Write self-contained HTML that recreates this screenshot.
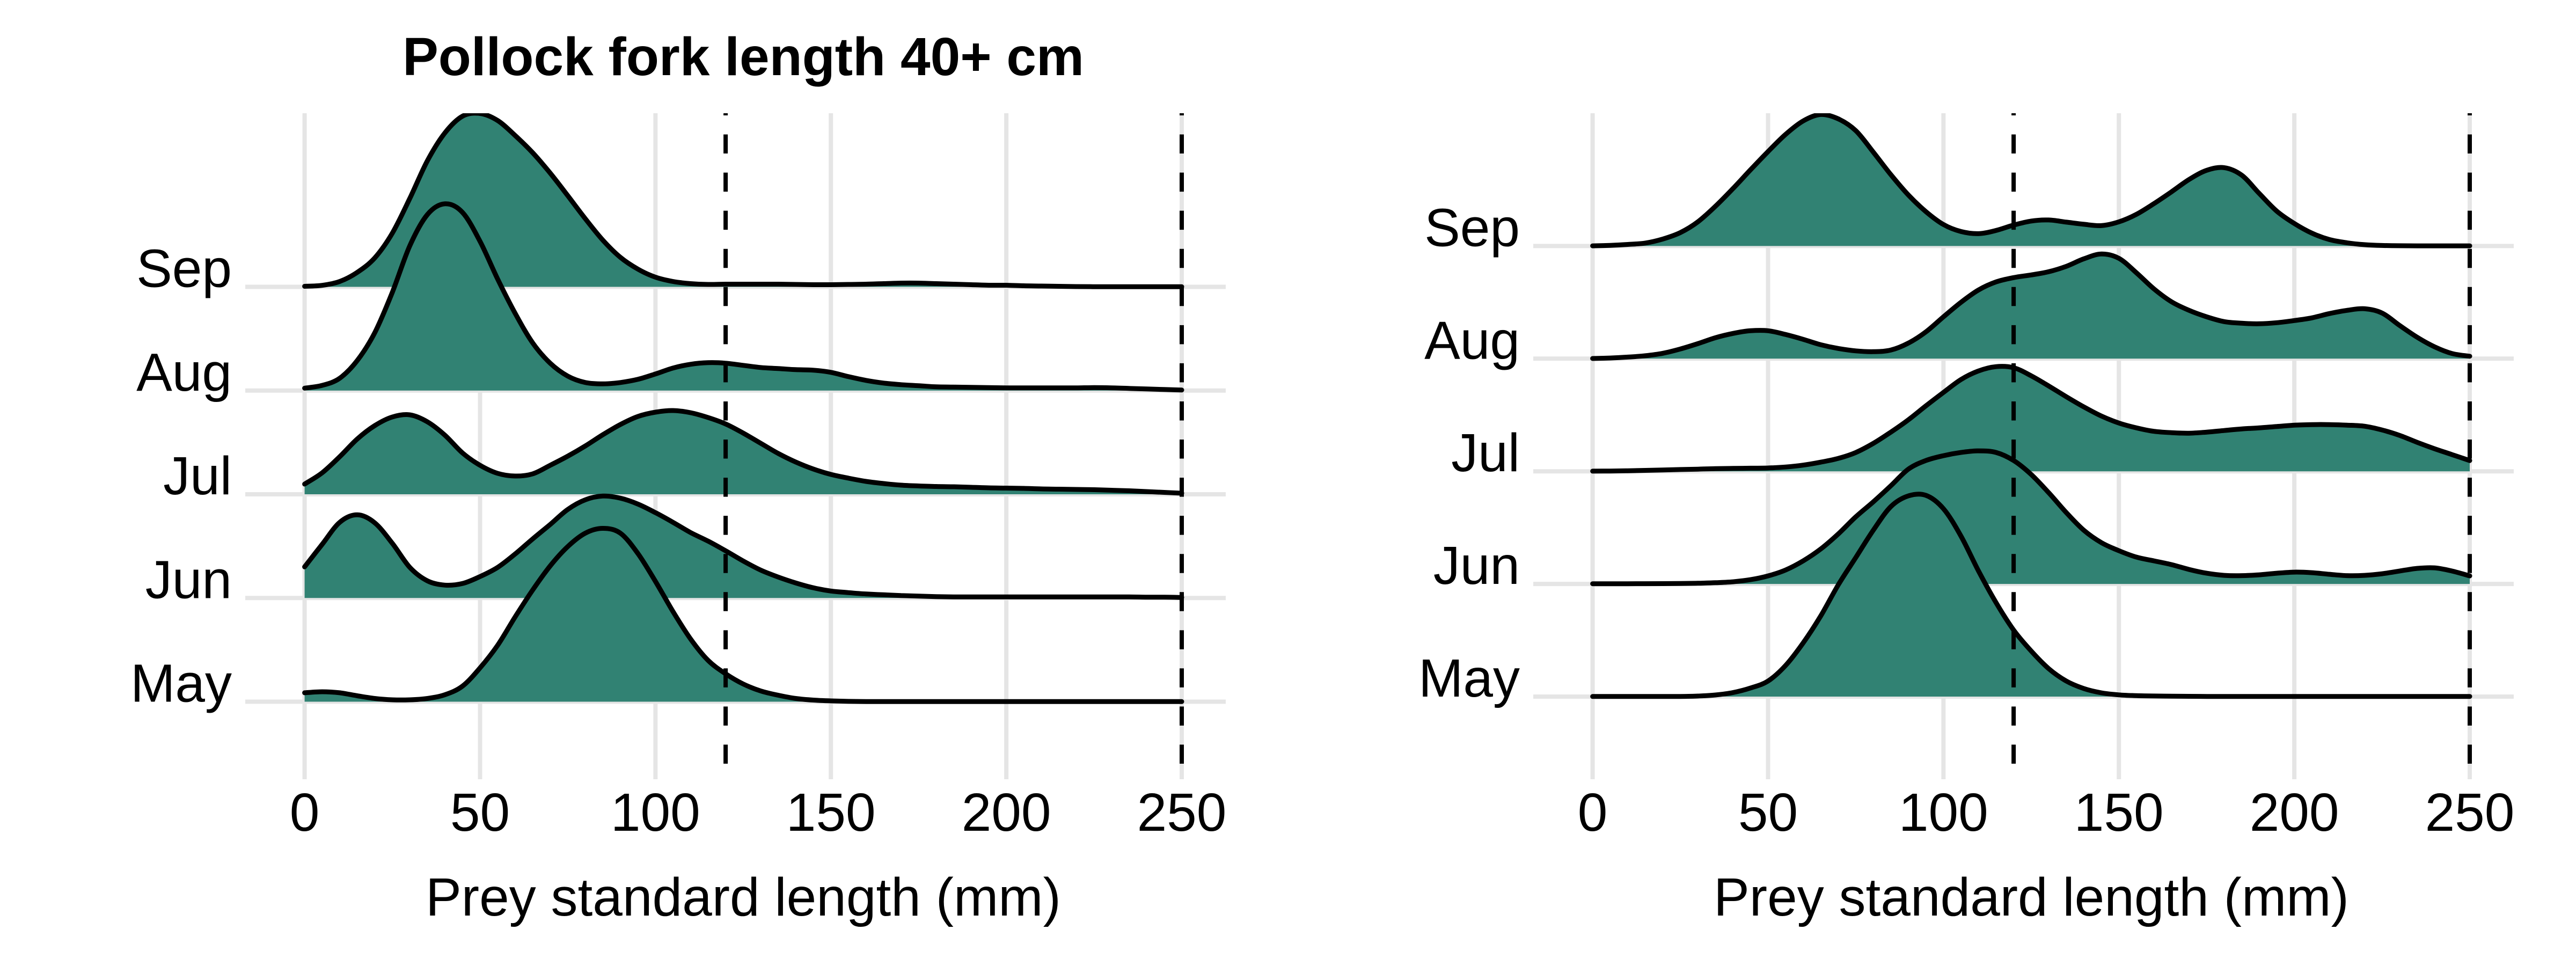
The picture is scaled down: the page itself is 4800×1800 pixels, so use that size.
<!DOCTYPE html>
<html lang="en">
<head>
<meta charset="utf-8">
<title>Pollock prey length ridgeline</title>
<style>
html,body{margin:0;padding:0;background:#fff;}
svg{display:block;}
text{font-family:"Liberation Sans",Arial,sans-serif;font-size:100px;fill:#000;}
</style>
</head>
<body>
<svg id="chart" xmlns="http://www.w3.org/2000/svg" width="4800" height="1800" viewBox="0 0 4800 1800">
<rect width="4800" height="1800" fill="#fff"/>
<text x="1385" y="140" text-anchor="middle" font-weight="bold">Pollock fork length 40+ cm</text>
</svg>
<script>
const months = ['May','Jun','Jul','Aug','Sep'];
const xTickLabels = [0,50,100,150,200,250];
const referenceLengths = [120,250];
const preyLengths = [0,5,10,15,20,25,30,35,40,45,50,55,60,65,70,75,80,85,90,95,100,105,110,115,120,125,130,135,140,145,150,155,160,165,170,175,180,185,190,195,200,205,210,215,220,225,230,235,240,245,250];

const leftMay = [16.6,18.5,16.6,11,6,3.5,3.5,6,13,29,63,105,158,208,253,289,314,323,314,276,224,168,117,77,52,33,20,12,6,3,1.5,.6,.3,.2,.2,.2,.2,.2,.2,.2,.2,.2,.2,.2,.2,.2,.2,.2,.2,.2,.2];
const leftJun = [58,100,141,155,140,102,57,32,24,27,40,57,82,110,137,165,183,190,186,175,159,141,122,106,88,69,52,39,28,19,13,10,7.5,6,4.5,3.5,2.5,2,2,2,2,2,2,2,2,2,2,2,1.5,1.5,1];
const leftJul = [19,40,70,103,128,144,148,135,110,77,54,39,34,38,54,71,90,111,130,145,153,156,152,143,131,114,95,76,60,47,37,30,24,20,17,15.5,14.5,14,13,12,11.5,11,10,9.5,9,8.5,7.5,6.5,5,3.5,2];
const leftAug = [4.5,9.6,23,56,108,183,270,328,348,332,278,208,144,89,51,27,15,12.5,15,21,31,42,49,52,51,47,43,41,39,38,34,26,19,14,11,9,7,6.5,6,5.5,5,5,5,5,5,5.5,5,4,3,2,1];
const leftSep = [1,2.8,10,27,54,100,165,235,287,318,323,310,282,250,212,170,127,87,55,33,18,10,6,4.5,5,5,5,5,4.5,4,4,4.5,5,6,7,7,6,5,4,3,3,2,1.5,1,.5,.3,.2,.2,.2,.2,.2];

const rightMay = [.2,.2,.2,.2,.2,.3,1,3,7.5,16,29,58,100,150,208,259,310,354,374,375,350,299,234,175,124,85,52,29,15,7,3.2,1.7,1.1,.8,.5,.3,.3,.3,.3,.3,.3,.3,.3,.3,.3,.3,.3,.3,.3,.3,.3];
const rightJun = [.4,.4,.4,.5,.6,.8,1.3,2.3,4,8,15,26,43,65,93,125,153,183,214,230,239,245,248,245,230,204,170,133,100,77,62,50,43,36,27,20,16,15.5,17,20,22,21,18,15.5,16,19,24,29,30,24,15];
const rightJul = [.3,.5,1,1.7,2.5,3.3,4,5,5.4,5.8,6.2,8,11.5,17,24,35,52,73,96,122,147,171,187,195,193,178,159,139,120,103,90,81,74.5,72,71,73,76,79,81,83.5,86,87,87,86,84,77,67,54,42,31,20];
const rightAug = [.3,1.2,2.9,5.4,10,18,28,39,47,52,52,45,36,26,19,14.5,13,16,29,50,78,105,128,143,151,156,162,172,186,195,187,160,130,106,90,78,69,66,65,67,71,76,84,90,93,85,62,40,22,9.5,4.5];
const rightSep = [.3,1.2,2.9,5.5,13,25,45,74,107,142,176,208,233,245,237,215,175,133,95,64,40,27,23,29,39,46.5,48.5,44.5,40.5,38,45,59,79,101,124,141,146,132,98,65,42,24,12,6,2.5,1,.5,.3,.3,.3,.3];

const leftSeries = [leftMay,leftJun,leftJul,leftAug,leftSep];
const rightSeries = [rightMay,rightJun,rightJul,rightAug,rightSep];

const NS = 'http://www.w3.org/2000/svg';
const svg = document.getElementById('chart');
const FILL = '#318273';
const GRID = '#e5e5e5';

function make(tag, attrs, parent){
  const el = document.createElementNS(NS, tag);
  for (const k in attrs) el.setAttribute(k, attrs[k]);
  parent.appendChild(el);
  return el;
}
function splinePath(pts){
  let d = 'M' + pts[0][0].toFixed(1) + ' ' + pts[0][1].toFixed(1);
  for (let i = 0; i < pts.length - 1; i++){
    const p0 = pts[Math.max(i-1,0)], p1 = pts[i], p2 = pts[i+1], p3 = pts[Math.min(i+2,pts.length-1)];
    const c1x = p1[0] + (p2[0]-p0[0])/6, c1y = p1[1] + (p2[1]-p0[1])/6;
    const c2x = p2[0] - (p3[0]-p1[0])/6, c2y = p2[1] - (p3[1]-p1[1])/6;
    d += 'C' + c1x.toFixed(1) + ' ' + c1y.toFixed(1) + ' ' + c2x.toFixed(1) + ' ' + c2y.toFixed(1) + ' ' + p2[0].toFixed(1) + ' ' + p2[1].toFixed(1);
  }
  return d;
}
function drawPanel(side, offsetX, firstBaseline, rowStep, series){
  const x0 = 567.6 + offsetX, x1 = 2202 + offsetX;
  const left = 457 + offsetX, right = 2284 + offsetX, top = 211, bottom = 1452;
  const xScale = v => x0 + (x1 - x0) * v / 250;
  const rowBase = i => firstBaseline - rowStep * i;

  const clip = make('clipPath', {id: 'clip-' + side}, svg);
  make('rect', {x: left, y: top, width: right-left, height: bottom-top}, clip);

  const panel = make('g', {}, svg);
  
  

  xTickLabels.forEach(t => {
    const g = make('line', {x1: xScale(t), x2: xScale(t), y1: top, y2: bottom, stroke: GRID, 'stroke-width': 8}, panel);
    
    
    const lab = make('text', {x: xScale(t), y: 1548, 'text-anchor': 'middle'}, panel);
    lab.textContent = String(t);
    
    
  });
  months.forEach((m, i) => {
    const g = make('line', {x1: left, x2: right, y1: rowBase(i), y2: rowBase(i), stroke: GRID, 'stroke-width': 8}, panel);
    
    
    const lab = make('text', {x: 432 + offsetX, y: rowBase(i), 'text-anchor': 'end'}, panel);
    lab.textContent = m;
    
    
  });

  const ridges = make('g', {'clip-path': 'url(#clip-' + side + ')'}, panel);
  for (let i = months.length - 1; i >= 0; i--){
    const base = rowBase(i);
    const pts = preyLengths.map((v, k) => [xScale(v), base - series[i][k]]);
    const line = splinePath(pts);
    const area = make('path', {d: line + 'L' + x1 + ' ' + base + 'L' + x0 + ' ' + base + 'Z', fill: FILL}, ridges);
    
    
    const stroke = make('path', {d: line, fill: 'none', stroke: '#000', 'stroke-width': 9, 'stroke-linecap': 'round', 'stroke-linejoin': 'round'}, ridges);
    
    
  }

  referenceLengths.forEach(r => {
    const ref = make('line', {x1: xScale(r), x2: xScale(r), y1: 1423, y2: top, stroke: '#000', 'stroke-width': 8, 'stroke-dasharray': '35.5 35.56'}, panel);
    
    
  });

  const title = make('text', {x: 1385 + offsetX, y: 1706, 'text-anchor': 'middle'}, panel);
  title.textContent = 'Prey standard length (mm)';
  
  
}
drawPanel('left', 0, 1307.5, 193.25, leftSeries);
drawPanel('right', 2400, 1298, 209.9, rightSeries);
</script>
</body>
</html>
